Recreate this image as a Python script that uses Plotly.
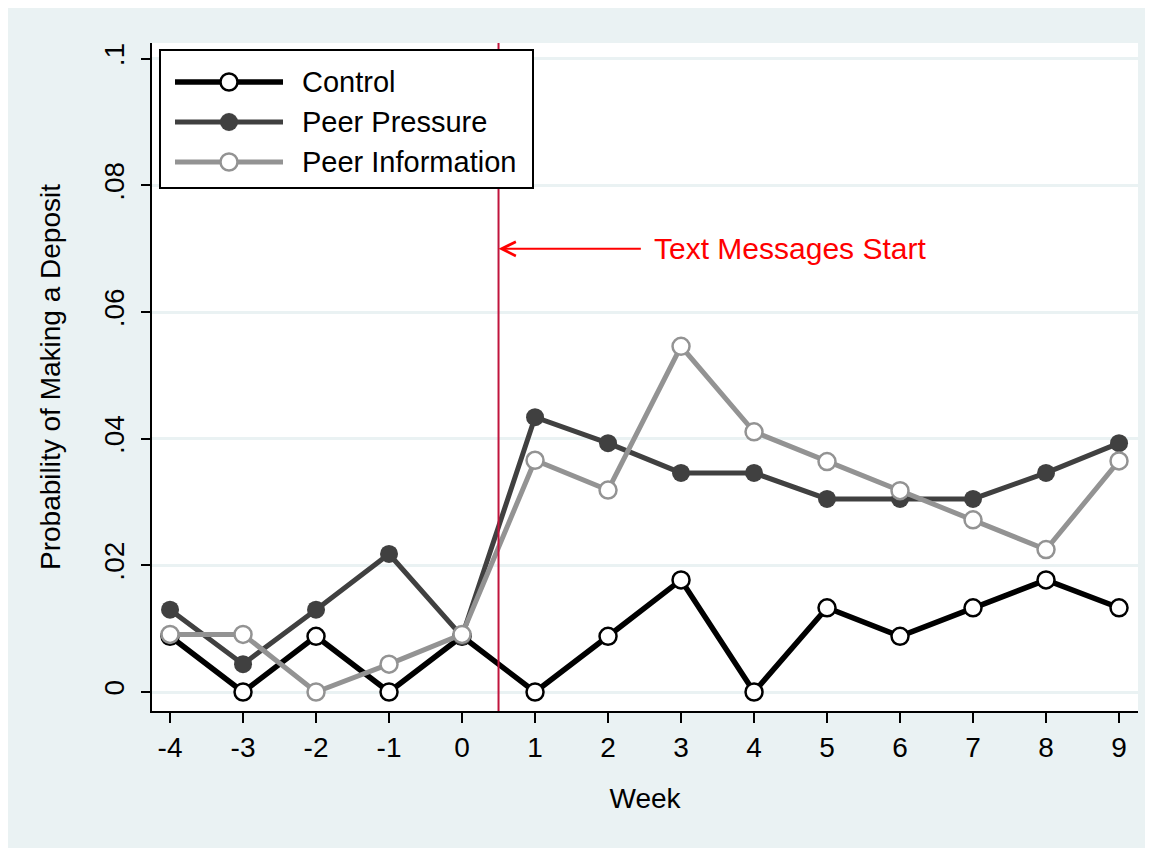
import plotly.graph_objects as go

weeks = [-4, -3, -2, -1, 0, 1, 2, 3, 4, 5, 6, 7, 8, 9]
week_labels = ["-4", "-3", "-2", "-1", "0", "1", "2", "3", "4", "5", "6", "7", "8", "9"]
control = [0.0088, 0.0, 0.0088, 0.0, 0.0088, 0.0, 0.0088, 0.0177, 0.0, 0.0133, 0.0088, 0.0133, 0.0177, 0.0133]
peer_pressure = [0.0130, 0.0044, 0.0130, 0.0218, 0.0088, 0.0434, 0.0393, 0.0346, 0.0346, 0.0305, 0.0305, 0.0305, 0.0346, 0.0393]
peer_information = [0.0091, 0.0091, 0.0, 0.0044, 0.0091, 0.0366, 0.0319, 0.0546, 0.0411, 0.0364, 0.0318, 0.0272, 0.0225, 0.0365]

y_tickvals = [0, 0.02, 0.04, 0.06, 0.08, 0.1]
y_ticktext = ["0", ".02", ".04", ".06", ".08", ".1"]

series_names = ["Control", "Peer Pressure", "Peer Information"]
series_values = [control, peer_pressure, peer_information]
line_colors = ["black", "#404040", "#939393"]
line_widths = [5.5, 5, 5]
marker_fills = ["white", "#404040", "white"]
marker_lines = [2.5, 0, 2.5]

FONT = "Liberation Sans"
BG = "#EAF2F3"

# figure geometry (page is offset by the 8px body margin)
W, H = 1145, 840
ML, MR, MT, MB = 144, 15, 35, 137
PW = W - ML - MR
PH = H - MT - MB


def px2x(px):
    return (px - 8 - ML) / PW


def py2y(py):
    return (H - MB - (py - 8)) / PH


fig = go.Figure()
for name, vals, lc, lw, mf, ml in zip(series_names, series_values, line_colors,
                                     line_widths, marker_fills, marker_lines):
    fig.add_trace(go.Scatter(
        x=weeks, y=vals, name=name, mode="lines+markers",
        line=dict(color=lc, width=lw),
        marker=dict(size=17 if ml else 18, color=mf, line=dict(color=lc, width=ml)),
        showlegend=False,
    ))

# vertical line at treatment start
fig.add_shape(type="line", xref="x", yref="y domain", x0=0.5, x1=0.5, y0=0, y1=1,
              line=dict(color="#C0143C", width=2))

# arrow and label
fig.add_annotation(x=0.5, y=0.07, ax=2.47, ay=0.07, axref="x", ayref="y",
                   xref="x", yref="y", text="", showarrow=True,
                   arrowhead=5, arrowsize=1.4, arrowwidth=2, arrowcolor="#FF0000")
fig.add_annotation(x=2.6, y=0.07, xref="x", yref="y", text="Text Messages Start",
                   showarrow=False, xanchor="left", yanchor="middle",
                   font=dict(family=FONT, size=30, color="#FF0000"))

# legend box drawn as decoration
fig.add_shape(type="rect", xref="paper", yref="paper",
              x0=px2x(160), x1=px2x(533), y0=py2y(188), y1=py2y(50),
              fillcolor="white", line=dict(color="black", width=2), layer="above")
row_y = [82, 122, 162]
r = 8.5
for name, lc, lw, mf, ml, ry in zip(series_names, line_colors, line_widths,
                                     marker_fills, marker_lines, row_y):
    fig.add_shape(type="line", xref="paper", yref="paper",
                  x0=px2x(175), x1=px2x(283), y0=py2y(ry), y1=py2y(ry),
                  line=dict(color=lc, width=lw), layer="above")
    rr = r if ml else 9
    fig.add_shape(type="circle", xref="paper", yref="paper",
                  x0=px2x(229 - rr), x1=px2x(229 + rr), y0=py2y(ry + rr), y1=py2y(ry - rr),
                  fillcolor=mf, line=dict(color=lc, width=ml if ml else 0.1), layer="above")
    fig.add_annotation(x=px2x(300), y=py2y(ry), xref="paper", yref="paper",
                       text=name, showarrow=False, xanchor="left", yanchor="middle",
                       font=dict(family=FONT, size=29, color="black"))

fig.update_layout(
    width=W, height=H,
    margin=dict(l=ML, r=MR, t=MT, b=MB),
    paper_bgcolor=BG, plot_bgcolor="white",
    font=dict(family=FONT, size=28, color="black"),
    showlegend=False,
    xaxis=dict(range=[-4.247, 9.26], tickvals=weeks, ticktext=week_labels,
               showgrid=False, zeroline=False,
               showline=True, linecolor="black", linewidth=2,
               ticks="outside", ticklen=10, tickwidth=2, tickcolor="black",
               ticklabelstandoff=0,
               title=dict(text="Week", standoff=27, font=dict(size=28))),
    yaxis=dict(range=[-0.003, 0.1025], tickvals=y_tickvals, ticktext=y_ticktext,
               tickangle=-90,
               showgrid=True, gridcolor=BG, gridwidth=2.5, zeroline=False,
               showline=True, linecolor="black", linewidth=2,
               ticks="outside", ticklen=9, tickwidth=2, tickcolor="black",
               ticklabelstandoff=6,
               title=dict(text="Probability of Making a Deposit", standoff=30, font=dict(size=28))),
)

fig.write_html("out.html")
